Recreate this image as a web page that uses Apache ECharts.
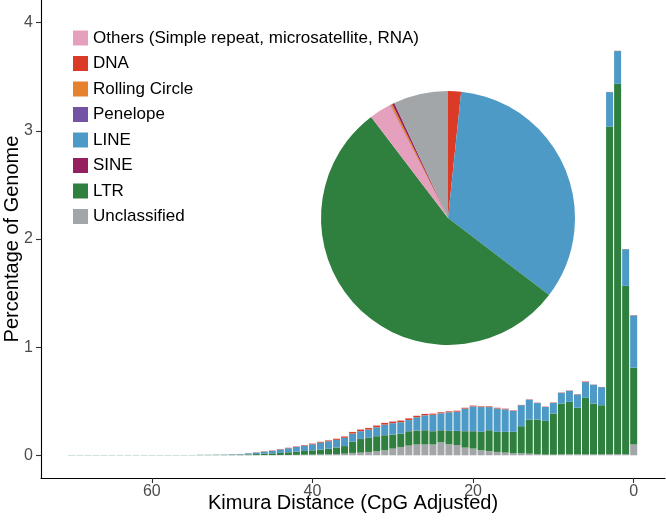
<!DOCTYPE html>
<html>
<head>
<meta charset="utf-8">
<script src="https://cdn.jsdelivr.net/npm/echarts/dist/echarts.min.js"></script>
<style>html,body{margin:0;padding:0;background:#fff}#c{width:666px;height:523px}</style>
</head>
<body>
<div id="c"></div>
<script>
// Kimura distance bins
var distances = [0,1,2,3,4,5,6,7,8,9,10,11,12,13,14,15,16,17,18,19,20,21,22,23,24,25,26,27,28,29,30,31,32,33,34,35,36,37,38,39,40,41,42,43,44,45,46,47,48,49,50,51,52,53,54,55,56,57,58,59,60,61,62,63,64,65,66,67,68,69,70];

// Percentage of genome per class (stack order bottom -> top)
var unclassified = [0.10,0.01,0.012,0.012,0.008,0.008,0.008,0.01,0.01,0.008,0.006,0.006,0.012,0.015,0.018,0.02,0.025,0.031,0.04,0.046,0.062,0.071,0.095,0.102,0.12,0.10,0.10,0.10,0.09,0.077,0.062,0.046,0.037,0.031,0.025,0.022,0.015,0.012,0.01,0.008,0.006,0.005,0.004,0.003,0.003,0.002,0.002,0.001,0.001,0.001,0.001,0.001,0.001,0.001,0.001,0.001,0.001,0.001,0.001,0.001,0.001,0.001,0.001,0.001,0.001,0.001,0.001,0.001,0.001,0.001,0.001];
var ltr = [0.71,1.557,3.423,3.028,0.455,0.47,0.523,0.43,0.484,0.47,0.38,0.312,0.318,0.315,0.251,0.196,0.191,0.185,0.191,0.17,0.16,0.151,0.13,0.123,0.111,0.122,0.131,0.128,0.132,0.123,0.128,0.139,0.139,0.129,0.125,0.103,0.07,0.06,0.05,0.044,0.04,0.035,0.029,0.025,0.019,0.016,0.012,0.010,0.007,0.005,0.004,0.003,0.003,0.002,0.002,0.001,0.001,0.001,0.001,0.001,0.001,0.001,0.001,0.001,0.001,0.001,0.001,0.001,0.001,0.001,0.001];
var sine = [0,0,0,0,0,0,0,0,0,0,0,0,0,0,0,0.001,0.001,0.001,0.001,0.001,0.001,0.001,0.001,0.001,0.001,0.001,0.001,0.001,0.001,0.001,0.001,0.001,0.001,0.001,0.001,0,0,0,0,0,0,0,0,0,0,0,0,0,0,0,0,0,0,0,0,0,0,0,0,0,0,0,0,0,0,0,0,0,0,0,0];
var line = [0.483,0.338,0.303,0.318,0.167,0.174,0.146,0.122,0.102,0.099,0.099,0.129,0.153,0.184,0.194,0.194,0.208,0.215,0.214,0.229,0.229,0.208,0.177,0.172,0.156,0.151,0.137,0.123,0.103,0.105,0.106,0.097,0.082,0.076,0.072,0.075,0.077,0.071,0.07,0.065,0.056,0.049,0.044,0.037,0.032,0.023,0.02,0.014,0.01,0.005,0.004,0.003,0.002,0.002,0.002,0.001,0.001,0.001,0.001,0.001,0.001,0.001,0.001,0.001,0.001,0.001,0.001,0.001,0.001,0.001,0.001];
var penelope = [0,0,0,0,0,0,0,0,0,0,0,0,0,0,0,0,0,0,0,0,0,0,0,0,0,0,0,0,0,0,0,0,0,0,0,0,0,0,0,0,0,0,0,0,0,0,0,0,0,0,0,0,0,0,0,0,0,0,0,0,0,0,0,0,0,0,0,0,0,0,0];
var rollingCircle = [0,0,0,0,0,0,0,0,0,0,0,0,0,0,0,0.001,0.001,0.001,0.001,0.001,0.001,0.001,0.001,0.001,0.001,0.001,0.001,0.001,0.001,0.001,0.001,0.001,0.001,0.001,0.001,0.001,0,0,0,0,0,0,0,0,0,0,0,0,0,0,0,0,0,0,0,0,0,0,0,0,0,0,0,0,0,0,0,0,0,0,0];
var dna = [0.003,0.002,0.002,0.002,0.002,0.002,0.005,0.003,0.003,0.003,0.003,0.003,0.003,0.003,0.003,0.004,0.005,0.006,0.006,0.006,0.006,0.007,0.008,0.008,0.009,0.01,0.012,0.012,0.015,0.014,0.014,0.015,0.015,0.014,0.014,0.014,0.012,0.01,0.008,0.007,0.006,0.005,0.004,0.004,0.003,0.003,0.002,0.002,0.001,0.001,0.001,0,0,0,0,0,0,0,0,0,0,0,0,0,0,0,0,0,0,0,0];
var others = [0,0,0,0,0,0,0,0,0,0,0,0,0,0,0,0.002,0.002,0.002,0.002,0.002,0.002,0.002,0.002,0.002,0.002,0.002,0.002,0.002,0.002,0.002,0.002,0.002,0.002,0.002,0.002,0.002,0.002,0.002,0.002,0.002,0.002,0.002,0.002,0.002,0.002,0.002,0.001,0.001,0,0,0,0,0,0,0,0,0,0,0,0,0,0,0,0,0,0,0,0,0,0,0];

// Genome composition (pie, %)
var pieNames = ["DNA","LINE","LTR","Others (Simple repeat, microsatellite, RNA)","Penelope","Rolling Circle","SINE","Unclassified"];
var pieValues = [1.65,33.7,54.3,2.8,0.05,0.25,0.3,6.95];

var legendOrder = ["Others (Simple repeat, microsatellite, RNA)","DNA","Rolling Circle","Penelope","LINE","SINE","LTR","Unclassified"];
var xTicks = [0,20,40,60];
var yTicks = [0,1,2,3,4];

var colors = {
  "Others (Simple repeat, microsatellite, RNA)": "#E4A0BD",
  "DNA": "#DA3A26",
  "Rolling Circle": "#E6822E",
  "Penelope": "#7452A4",
  "LINE": "#4E9AC7",
  "SINE": "#952060",
  "LTR": "#2F7F3E",
  "Unclassified": "#A2A6A9"
};

var stackSeries = [
  ["Unclassified", unclassified],
  ["LTR", ltr],
  ["SINE", sine],
  ["LINE", line],
  ["Penelope", penelope],
  ["Rolling Circle", rollingCircle],
  ["DNA", dna],
  ["Others (Simple repeat, microsatellite, RNA)", others]
];

// layout constants
var X_MIN = -3.9, X_MAX = 73.8, PLOT_L = 41, PLOT_R = 665;
var pxPerUnit = (PLOT_R - PLOT_L) / (X_MAX - X_MIN);
var barGridLeft = PLOT_L + (X_MAX - (distances.length - 1) - 0.5) * pxPerUnit;
var barGridWidth = distances.length * pxPerUnit;

var series = stackSeries.map(function (s) {
  return {
    name: s[0],
    type: 'bar',
    stack: 'k',
    xAxisIndex: 1,
    yAxisIndex: 1,
    barWidth: 7,
    itemStyle: { color: colors[s[0]] },
    data: s[1],
    animation: false
  };
});

series.push({
  name: 'pie',
  type: 'pie',
  center: [448, 218],
  radius: 127,
  startAngle: 90,
  clockwise: true,
  label: { show: false },
  labelLine: { show: false },
  itemStyle: { borderWidth: 0 },
  emphasis: { disabled: true },
  animation: false,
  data: pieNames.map(function (n, i) {
    return { name: n, value: pieValues[i], itemStyle: { color: colors[n] } };
  })
});

var font = 'Liberation Sans, Arial, sans-serif';
var chart = echarts.init(document.getElementById('c'), null, { renderer: 'canvas' });
chart.setOption({
  backgroundColor: '#fff',
  animation: false,
  textStyle: { fontFamily: font },
  legend: {
    orient: 'vertical',
    left: 68,
    top: 24.5,
    itemWidth: 15,
    itemHeight: 15,
    itemGap: 8.5,
    icon: 'rect',
    data: legendOrder,
    textStyle: { fontSize: 17, color: '#000', fontFamily: font },
    selectedMode: false
  },
  grid: [
    { left: PLOT_L, width: PLOT_R - PLOT_L, top: 0, bottom: 45, containLabel: false, outerBoundsMode: 'none' },
    { left: barGridLeft, width: barGridWidth, top: 0, bottom: 45, containLabel: false, outerBoundsMode: 'none' }
  ],
  xAxis: [{
    type: 'value',
    gridIndex: 0,
    inverse: true,
    min: X_MIN,
    max: X_MAX,
    name: 'Kimura Distance (CpG Adjusted)',
    nameLocation: 'middle',
    nameGap: 15,
    nameMoveOverlap: false,
    nameTextStyle: { fontSize: 20, color: '#000', fontFamily: font, verticalAlign: 'top' },
    axisLine: { show: true, onZero: false, lineStyle: { color: '#000', width: 1.1 } },
    axisTick: { show: true, length: 5, customValues: xTicks, lineStyle: { color: '#333', width: 1.1 } },
    axisLabel: { customValues: xTicks, fontSize: 16, color: '#4D4D4D', margin: 6, fontFamily: font },
    splitLine: { show: false }
  }, {
    type: 'category',
    gridIndex: 1,
    inverse: true,
    data: distances,
    boundaryGap: true,
    show: false
  }],
  yAxis: [{
    type: 'value',
    gridIndex: 0,
    min: -0.21,
    max: 4.21,
    name: 'Percentage of Genome',
    nameLocation: 'middle',
    nameGap: 19,
    nameMoveOverlap: false,
    nameTextStyle: { fontSize: 20, color: '#000', fontFamily: font },
    axisLine: { show: true, onZero: false, lineStyle: { color: '#000', width: 1.1 } },
    axisTick: { show: true, length: 5, customValues: yTicks, lineStyle: { color: '#333', width: 1.1 } },
    axisLabel: { customValues: yTicks, fontSize: 16, color: '#4D4D4D', margin: 8, fontFamily: font },
    splitLine: { show: false }
  }, {
    type: 'value',
    gridIndex: 1,
    min: -0.21,
    max: 4.21,
    show: false,
    splitLine: { show: false }
  }],
  series: series
});
</script>
</body>
</html>
